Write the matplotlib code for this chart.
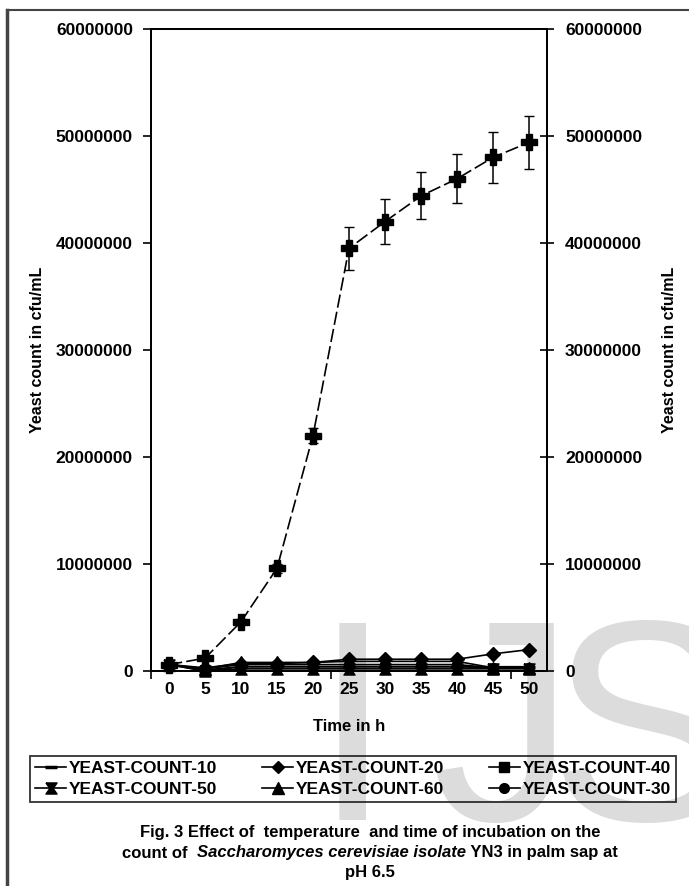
import numpy as np
import matplotlib.pyplot as plt
from matplotlib.lines import Line2D
from matplotlib.offsetbox import TextArea, HPacker, AnnotationBbox
from matplotlib.ticker import FixedLocator, StrMethodFormatter

plt.rcParams['font.family'] = ['Liberation Sans', 'DejaVu Sans']
plt.rcParams['font.weight'] = 'bold'
plt.rcParams['axes.labelweight'] = 'bold'

# incubation time (h) and yeast counts (cfu/mL)
time_h = [0, 5, 10, 15, 20, 25, 30, 35, 40, 45, 50]
growth = [600000, 1200000, 4600000, 9600000, 22000000, 39500000,
          42000000, 44400000, 46000000, 48000000, 49400000]
growth_err = [100000, 150000, 250000, 400000, 700000, 2000000,
              2100000, 2200000, 2300000, 2400000, 2500000]
count10 = [600000, 0, 400000, 400000, 400000, 400000, 400000, 400000, 400000, 400000, 400000]
count20 = [600000, 300000, 700000, 700000, 800000, 1100000, 1100000, 1100000, 1100000, 1600000, 2000000]
count40 = [600000, 100000, 400000, 400000, 400000, 400000, 400000, 400000, 400000, 300000, 300000]
count50 = [600000, 0, 200000, 200000, 200000, 200000, 200000, 200000, 200000, 200000, 200000]
count60 = [600000, 200000, 800000, 800000, 800000, 900000, 900000, 900000, 900000, 300000, 300000]
count30 = [600000, 200000, 600000, 600000, 600000, 600000, 600000, 600000, 600000, 300000, 300000]
low_err = [0, 0, 150000, 150000, 150000, 150000, 150000, 150000, 150000, 150000, 150000]

y_ticks = [0, 10000000, 20000000, 30000000, 40000000, 50000000, 60000000]

# hourglass marker
bowtie = [(-1, 1), (1, 1), (0.3, 0), (1, -1), (-1, -1), (-0.3, 0), (-1, 1)]

fig = plt.figure(figsize=(6.89, 8.86), dpi=100)
W, H = 689, 886
ax = fig.add_axes([151 / W, 1 - 671 / H, 396 / W, 642 / H])
ax.patch.set_alpha(0)

idx = np.arange(len(time_h))
kw = dict(color='black', lw=1.2, clip_on=False)
ax.plot(idx, count10, marker='_', ms=9, mew=2.5, **kw)
ax.errorbar(idx, count40, yerr=low_err, marker='s', ms=6, capsize=2.5, elinewidth=1, **kw)
ax.plot(idx, count50, marker=bowtie, ms=8, **kw)
ax.plot(idx, count30, marker='o', ms=7, **kw)
ax.plot(idx, count60, marker='^', ms=8, **kw)
ax.plot(idx, count20, marker='D', ms=7, **kw)
ax.errorbar(idx, growth, yerr=growth_err, color='black', lw=1.2, ls=(0, (8, 2.5)),
            marker='P', ms=12, capsize=3.5, elinewidth=1.1, ecolor='black', clip_on=False)

ax.set_xlim(-0.5, 10.5)
ax.set_ylim(0, 60000000)
ax.set_xticks(idx)
ax.set_xticklabels([str(t) for t in time_h])
ax.xaxis.set_minor_locator(FixedLocator([-0.5, 4.5, 9.5]))
ax.tick_params(axis='x', which='major', length=0, pad=8, labelsize=12.5)
ax.tick_params(axis='x', which='minor', length=6, width=1.2, direction='out')
ax.set_yticks(y_ticks)
ax.yaxis.set_major_formatter(StrMethodFormatter('{x:.0f}'))
ax.tick_params(axis='y', length=6, width=1.2, direction='out', pad=7, labelsize=12.5)
for s in ax.spines.values():
    s.set_linewidth(1.3)

ax2 = ax.twinx()
ax2.set_ylim(ax.get_ylim())
ax2.set_yticks(y_ticks)
ax2.yaxis.set_major_formatter(StrMethodFormatter('{x:.0f}'))
ax2.tick_params(axis='y', length=10, width=1.2, direction='inout', pad=8, labelsize=12.5)
for s in ax2.spines.values():
    s.set_linewidth(1.3)

ax.set_xlabel('Time in h', fontsize=12, fontweight='bold', labelpad=16)
fig.text(38 / W, 1 - 350 / H, 'Yeast count in cfu/mL', rotation=90,
         ha='center', va='center', fontsize=11.5)
fig.text(670 / W, 1 - 350 / H, 'Yeast count in cfu/mL', rotation=90,
         ha='center', va='center', fontsize=11.5)

# legend
handles = [
    Line2D([], [], color='black', lw=1.2, marker='_', ms=9, mew=2.5),
    Line2D([], [], color='black', lw=1.2, marker=bowtie, ms=8),
    Line2D([], [], color='black', lw=1.2, marker='D', ms=6),
    Line2D([], [], color='black', lw=1.2, marker='^', ms=8),
    Line2D([], [], color='black', lw=1.2, marker='s', ms=7),
    Line2D([], [], color='black', lw=1.2, marker='o', ms=7),
]
labels = ['YEAST-COUNT-10', 'YEAST-COUNT-50', 'YEAST-COUNT-20',
          'YEAST-COUNT-60', 'YEAST-COUNT-40', 'YEAST-COUNT-30']
leg = fig.legend(handles, labels, ncol=3, loc='center', mode='expand',
                 bbox_to_anchor=(30 / W, 1 - 808 / H, 646 / W, 58 / H),
                 borderaxespad=0, fancybox=False, edgecolor='black',
                 facecolor='none', framealpha=None, fontsize=12.5,
                 handlelength=1.8, handletextpad=0.15, labelspacing=0.35,
                 borderpad=0.3)
leg.get_frame().set_linewidth(1.3)

# caption
fig.text(370 / W, 1 - 832 / H, 'Fig. 3 Effect of  temperature  and time of incubation on the',
         ha='center', va='center', fontsize=12)
parts = [TextArea('count of  ', textprops=dict(fontsize=12, fontweight='bold')),
         TextArea('Saccharomyces cerevisiae isolate',
                  textprops=dict(fontsize=12, fontweight='bold', style='italic')),
         TextArea(' YN3 in palm sap at', textprops=dict(fontsize=12, fontweight='bold'))]
line2 = HPacker(children=parts, pad=0, sep=0, align='baseline')
fig.add_artist(AnnotationBbox(line2, (370 / W, 1 - 853 / H), xycoords='figure fraction',
                              frameon=False, box_alignment=(0.5, 0.5), pad=0))
fig.text(370 / W, 1 - 873 / H, 'pH 6.5', ha='center', va='center', fontsize=12)

# watermark
for ch, xp in [('I', 313), ('J', 432), ('S', 550)]:
    fig.text(xp / W, 1 - 820 / H, ch, color='#dcdcdc', fontsize=206,
             fontweight='normal', ha='left', va='baseline', zorder=-5)

# outer frame (left and top edges)
fig.add_artist(Line2D([7 / W, 7 / W], [0, 1 - 10 / H], transform=fig.transFigure,
                      color='#444444', lw=2.5))
fig.add_artist(Line2D([7 / W, 1], [1 - 10 / H, 1 - 10 / H], transform=fig.transFigure,
                      color='#444444', lw=1.5))

fig.savefig('out.png', dpi=100)
